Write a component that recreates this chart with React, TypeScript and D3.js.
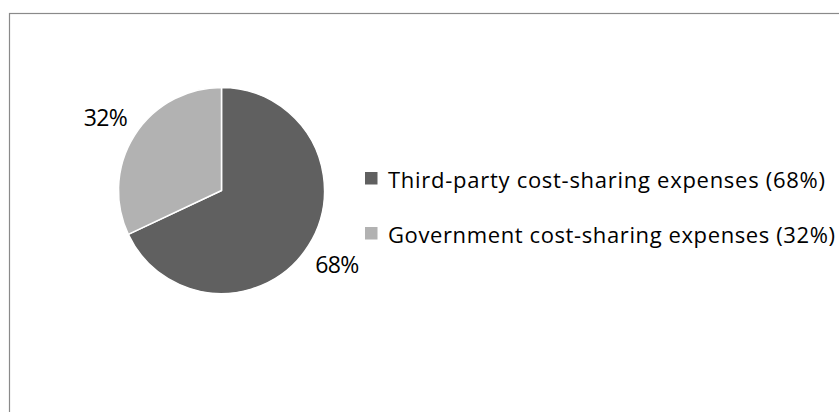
import React, { useEffect, useRef } from "react";
import * as d3 from "d3";

const categories = [
  "Third-party cost-sharing expenses",
  "Government cost-sharing expenses",
];
const shares = [68, 32];
const colors = ["#606060", "#b2b2b2"];
const legendWidths = [437, 447];

const App: React.FC = () => {
  const svgRef = useRef<SVGSVGElement>(null);

  useEffect(() => {
    const svg = d3.select(svgRef.current);
    svg.selectAll("*").remove();

    const width = 839;
    const height = 412;
    const cx = 221.5;
    const cy = 190.5;
    const radius = 103;
    const font = "'Open Sans', Lato, sans-serif";

    // chart area border (runs off the right and bottom of the picture)
    svg
      .append("rect")
      .attr("x", 9.5)
      .attr("y", 13.5)
      .attr("width", width)
      .attr("height", height)
      .attr("fill", "none")
      .attr("stroke", "#8a8a8a")
      .attr("stroke-width", 1.2);

    const pie = d3
      .pie<number>()
      .sort(null)
      .value((d) => d);
    const arcs = pie(shares);

    const arc = d3.arc<d3.PieArcDatum<number>>().innerRadius(0).outerRadius(radius);
    const labelArc = d3
      .arc<d3.PieArcDatum<number>>()
      .innerRadius(137)
      .outerRadius(137);

    const g = svg.append("g").attr("transform", `translate(${cx},${cy})`);

    g.selectAll("path")
      .data(arcs)
      .enter()
      .append("path")
      .attr("d", arc)
      .attr("fill", (d, i) => colors[i])
      .attr("stroke", "#ffffff")
      .attr("stroke-width", 1.5)
      .attr("stroke-linejoin", "round");

    g.selectAll("text.label")
      .data(arcs)
      .enter()
      .append("text")
      .attr("class", "label")
      .attr("transform", (d) => `translate(${labelArc.centroid(d)})`)
      .attr("text-anchor", "middle")
      .attr("dominant-baseline", "central")
      .attr("textLength", 44)
      .attr("lengthAdjust", "spacing")
      .style("font-family", font)
      .style("font-size", "23px")
      .style("fill", "#000")
      .text((d) => `${d.data}%`);

    // legend
    const legendY = d3
      .scalePoint<string>()
      .domain(categories)
      .range([178.5, 233.5]);

    const legend = svg
      .append("g")
      .selectAll("g")
      .data(categories)
      .enter()
      .append("g")
      .attr("transform", (d) => `translate(365,${legendY(d)})`);

    legend
      .append("rect")
      .attr("x", 0)
      .attr("y", -6.5)
      .attr("width", 12.5)
      .attr("height", 12.5)
      .attr("fill", (d, i) => colors[i]);

    legend
      .append("text")
      .attr("x", 23)
      .attr("y", 9.5)
      .attr("textLength", (d, i) => legendWidths[i])
      .attr("lengthAdjust", "spacing")
      .style("font-family", font)
      .style("font-size", "22px")
      .style("fill", "#000")
      .text((d, i) => `${d} (${shares[i]}%)`);
  }, []);

  return (
    <div style={{ position: "absolute", left: 0, top: 0 }}>
      <svg ref={svgRef} width="839" height="412" style={{ display: "block", background: "#fff" }}></svg>
    </div>
  );
};

export default App;
